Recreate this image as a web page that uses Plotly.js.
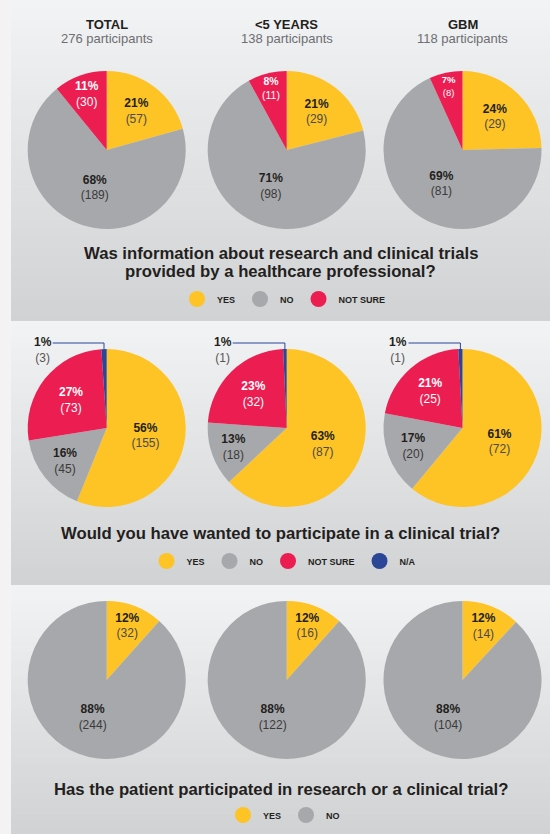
<!DOCTYPE html>
<html><head><meta charset="utf-8">
<script src="https://cdn.plot.ly/plotly-3.0.1.min.js"></script>
<style>html,body{margin:0;padding:0;background:#f3f3f4;} #chart{width:550px;height:834px;}</style>
</head><body><div id="chart"></div>
<script>
// ---------------- DATA ----------------
const groups = ['TOTAL', '&lt;5 YEARS', 'GBM'];
const participants = [276, 138, 118];

const q1Title = ['Was information about research and clinical trials', 'provided by a healthcare professional?'];
const q1Cats = ['YES', 'NO', 'NOT SURE'];
const q1Counts = [[57, 189, 30], [29, 98, 11], [29, 81, 8]];
const q1Pct = [['21%', '68%', '11%'], ['21%', '71%', '8%'], ['24%', '69%', '7%']];

const q2Title = ['Would you have wanted to participate in a clinical trial?'];
const q2Cats = ['YES', 'NO', 'NOT SURE', 'N/A'];
const q2Counts = [[155, 45, 73, 3], [87, 18, 32, 1], [72, 20, 25, 1]];
const q2Pct = [['56%', '16%', '27%', '1%'], ['63%', '13%', '23%', '1%'], ['61%', '17%', '21%', '1%']];

const q3Title = ['Has the patient participated in research or a clinical trial?'];
const q3Cats = ['YES', 'NO'];
const q3Counts = [[32, 244], [16, 122], [14, 104]];
const q3Pct = [['12%', '88%'], ['12%', '88%'], ['12%', '88%']];

// categories whose tiny slices are labelled outside with a callout
const calloutCats = ['N/A'];

// ---------------- STYLE ----------------
const W = 550, H = 834;
const FONT = 'Liberation Sans, Arial, Helvetica, sans-serif';
const DARK = '#231f20';
const catColor = {'YES': '#FEC325', 'NO': '#A7A8AB', 'NOT SURE': '#EC1D51', 'N/A': '#2B4597'};
const catText = {'YES': DARK, 'NO': DARK, 'NOT SURE': '#ffffff', 'N/A': DARK};
const catSub = {'YES': '#4a4a4a', 'NO': '#3a3a3a', 'NOT SURE': '#ffffff', 'N/A': '#555555'};
const colX = [106.7, 286.7, 462.5];
const R = 79;
const legendCX = 284;
const px = x => x / W, py = y => 1 - y / H;

const rows = [
  {cats: q1Cats, counts: q1Counts, pct: q1Pct, title: q1Title, cy: 150, titleY: [253, 271], legendY: 299, legend: 'legend'},
  {cats: q2Cats, counts: q2Counts, pct: q2Pct, title: q2Title, cy: 428, titleY: [533], legendY: 561, legend: 'legend2'},
  {cats: q3Cats, counts: q3Counts, pct: q3Pct, title: q3Title, cy: 680, titleY: [789], legendY: 815, legend: 'legend3'}
];
const panels = [[0, 321], [321, 585], [585, 834]];

const data = [], shapes = [], annotations = [];

// panel gradient backgrounds
const topC = [242, 243, 244], botC = [209, 210, 212];
panels.forEach(([y0, y1]) => {
  const N = 48;
  for (let i = 0; i < N; i++) {
    const t = i / (N - 1);
    const c = topC.map((v, k) => Math.round(v + (botC[k] - v) * t));
    const a = y0 + (y1 - y0) * i / N, b = y0 + (y1 - y0) * (i + 1) / N + 0.6;
    shapes.push({type: 'rect', xref: 'paper', yref: 'paper', layer: 'below',
      x0: px(11), x1: 1, y0: py(Math.min(b, y1)), y1: py(a),
      fillcolor: `rgb(${c[0]},${c[1]},${c[2]})`, line: {width: 0}});
  }
});

// column headers
colX.forEach((cx, ci) => {
  annotations.push({text: '<b>' + groups[ci] + '</b>', x: px(cx), y: py(24), xref: 'paper', yref: 'paper',
    showarrow: false, xanchor: 'center', yanchor: 'middle', font: {family: FONT, size: 13, color: DARK}});
  annotations.push({text: participants[ci] + ' participants', x: px(cx), y: py(38.5), xref: 'paper', yref: 'paper',
    showarrow: false, xanchor: 'center', yanchor: 'middle', font: {family: FONT, size: 13, color: '#6d6e71'}});
});

rows.forEach((row) => {
  const cats = row.cats;
  colX.forEach((cx, ci) => {
    const vals = row.counts[ci], pct = row.pct[ci];
    data.push({
      type: 'pie', labels: cats, values: vals, text: pct,
      customdata: cats.map(c => catSub[c]),
      texttemplate: cats.map(c => calloutCats.includes(c) ? '' :
        '<b>%{text}</b><br><span style="color:%{customdata}">(%{value})</span>'),
      textposition: 'inside', insidetextorientation: 'horizontal',
      insidetextfont: {family: FONT, size: 12, color: cats.map(c => catText[c])},
      marker: {colors: cats.map(c => catColor[c]), line: {width: 0}},
      sort: false, direction: 'clockwise', rotation: 0,
      domain: {x: [px(cx - R), px(cx + R)], y: [py(row.cy + R), py(row.cy - R)]},
      showlegend: false, hoverinfo: 'skip'
    });
    // callouts for tiny slices
    const total = vals.reduce((a, b) => a + b, 0);
    let cum = 0;
    vals.forEach((v, k) => {
      const mid = (cum + v / 2) / total * 2 * Math.PI;
      cum += v;
      if (!calloutCats.includes(cats[k])) return;
      const ax = cx + R * Math.sin(mid), ay = row.cy - R * Math.cos(mid);
      const ly = row.cy - R - 6;
      const lc = catColor[cats[k]];
      shapes.push({type: 'line', xref: 'paper', yref: 'paper', x0: px(cx - 54), x1: px(ax), y0: py(ly), y1: py(ly), line: {color: lc, width: 1}});
      shapes.push({type: 'line', xref: 'paper', yref: 'paper', x0: px(ax), x1: px(ax), y0: py(ly), y1: py(ay), line: {color: lc, width: 1}});
      annotations.push({text: '<b>' + pct[k] + '</b><br><span style="color:#555555">(' + v + ')</span>',
        x: px(cx - 64), y: py(row.cy - R + 0.5), xref: 'paper', yref: 'paper', showarrow: false,
        xanchor: 'center', yanchor: 'middle', font: {family: FONT, size: 12, color: DARK}});
    });
  });
  // question title
  row.title.forEach((t, i) => {
    annotations.push({text: '<b>' + t + '</b>', x: px(280.5), y: py(row.titleY[i]), xref: 'paper', yref: 'paper',
      showarrow: false, xanchor: 'center', yanchor: 'middle', font: {family: FONT, size: 16.7, color: DARK}});
  });
  // legend entries
  cats.forEach(c => {
    data.push({type: 'scatter', x: [null], y: [null], mode: 'markers', name: c,
      marker: {size: 16, color: catColor[c]}, legend: row.legend, showlegend: true, hoverinfo: 'skip'});
  });
});

const legendBase = (y) => ({orientation: 'h', x: px(legendCX), xanchor: 'center', y: py(y), yanchor: 'middle',
  font: {family: FONT, size: 9, color: DARK, weight: 'bold'}, bgcolor: 'rgba(0,0,0,0)', borderwidth: 0,
  itemclick: false, itemdoubleclick: false});

const layout = {
  width: W, height: H, margin: {l: 0, r: 0, t: 0, b: 0},
  paper_bgcolor: '#f3f3f4', plot_bgcolor: 'rgba(0,0,0,0)',
  xaxis: {visible: false}, yaxis: {visible: false},
  legend: legendBase(rows[0].legendY),
  legend2: legendBase(rows[1].legendY),
  legend3: legendBase(rows[2].legendY),
  shapes: shapes, annotations: annotations
};

Plotly.newPlot('chart', data, layout, {staticPlot: true, displayModeBar: false});
</script></body></html>
